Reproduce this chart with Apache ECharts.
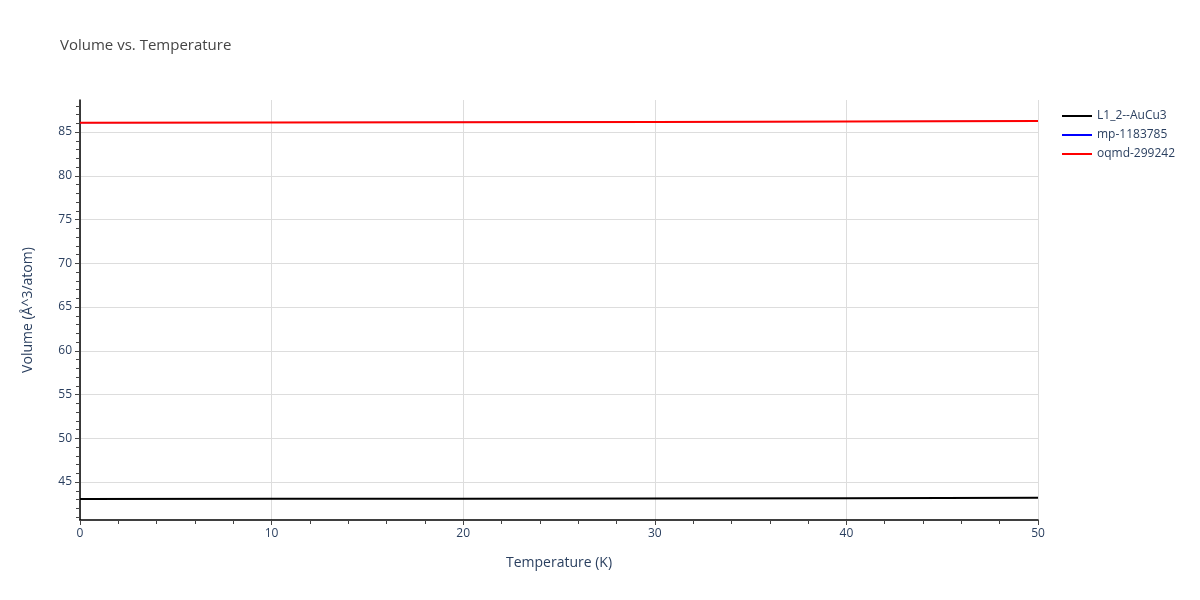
<!DOCTYPE html>
<html lang="en">
<head>
    <meta charset="UTF-8">
    <title>Volume vs. Temperature</title>
    <style>
        html,body{
            height: 100%;
        }
        body{
            margin: 0;
            padding: 0;
        }
        #chart{
            width: 1200px;
            height: 600px;
        }
    </style>
</head>
<body>
    <div id="chart"></div>
</body>
</html>
<script src="https://cdn.jsdelivr.net/npm/echarts@6/dist/echarts.min.js"></script>
<script>
    // data
    var temps = [0, 10, 20, 30, 40, 50];
    var aucu3 = [43.06, 43.08, 43.10, 43.13, 43.16, 43.19];
    var mp1183785 = [86.06, 86.09, 86.12, 86.16, 86.20, 86.25];
    var oqmd299242 = [86.06, 86.09, 86.12, 86.16, 86.20, 86.25];
    var yLabels = [45, 50, 55, 60, 65, 70, 75, 80, 85];
    var yMinor = [];
    for (var v = 41; v <= 88; v++) yMinor.push(v);

    var yMin = 40.66, yMax = 88.66;
    var txt = '#2a3f5f';
    var font = '"Open Sans", sans-serif';

    function pairs(ys) {
        return temps.map(function (t, i) { return [t, ys[i]]; });
    }

    var myChart = echarts.init(document.getElementById('chart'));
    myChart.setOption({
        animation: false,
        title: {
            text: 'Volume vs. Temperature',
            left: 55,
            top: 33,
            textStyle: { color: '#444', fontSize: 15, fontWeight: 'normal', fontFamily: font }
        },
        legend: {
            orient: 'vertical',
            left: 1056,
            top: 105,
            itemWidth: 30,
            itemHeight: 2,
            itemGap: 7,
            textStyle: { color: txt, fontSize: 12, fontFamily: font },
            data: [
                { name: 'L1_2--AuCu3' },
                { name: 'mp-1183785', lineStyle: { width: 2 } },
                { name: 'oqmd-299242' }
            ]
        },
        grid: { left: 80, right: 162, top: 100, bottom: 80 },
        xAxis: {
            type: 'value',
            min: 0,
            max: 50,
            interval: 10,
            name: 'Temperature (K)',
            nameLocation: 'middle',
            nameGap: 36,
            nameTextStyle: { color: txt, fontSize: 14, fontFamily: font },
            axisLine: { lineStyle: { color: '#000', width: 1.5 } },
            axisTick: { show: true, length: 5, lineStyle: { color: '#444' } },
            minorTick: { show: true, splitNumber: 5, length: 4, lineStyle: { color: '#444' } },
            axisLabel: { color: txt, fontSize: 12, fontFamily: font, margin: 8 },
            splitLine: { show: true, lineStyle: { color: '#ddd' } }
        },
        yAxis: [{
            type: 'value',
            min: yMin,
            max: yMax,
            name: 'Volume (Å^3/atom)',
            nameLocation: 'middle',
            nameGap: 45,
            nameTextStyle: { color: txt, fontSize: 14, fontFamily: font },
            axisLine: { show: false },
            axisTick: { show: true, length: 5, customValues: yLabels, lineStyle: { color: '#444' } },
            axisLabel: { color: txt, fontSize: 12, fontFamily: font, margin: 8, customValues: yLabels },
            splitLine: { show: true, lineStyle: { color: '#ddd' } }
        }, {
            type: 'value',
            min: yMin,
            max: yMax,
            position: 'left',
            axisLine: { show: true, lineStyle: { color: '#000', width: 1.5 } },
            axisTick: { show: true, length: 4, customValues: yMinor, lineStyle: { color: '#444' } },
            axisLabel: { show: false },
            splitLine: { show: false }
        }],
        series: [{
            name: 'L1_2--AuCu3',
            type: 'line',
            symbol: 'none',
            data: pairs(aucu3),
            lineStyle: { color: '#000', width: 2 },
            itemStyle: { color: '#000' }
        }, {
            name: 'mp-1183785',
            type: 'line',
            symbol: 'none',
            data: pairs(mp1183785),
            lineStyle: { color: '#0000ff', width: 1 },
            itemStyle: { color: '#0000ff' }
        }, {
            name: 'oqmd-299242',
            type: 'line',
            symbol: 'none',
            data: pairs(oqmd299242),
            lineStyle: { color: '#ff0000', width: 2 },
            itemStyle: { color: '#ff0000' }
        }]
    });
</script>
